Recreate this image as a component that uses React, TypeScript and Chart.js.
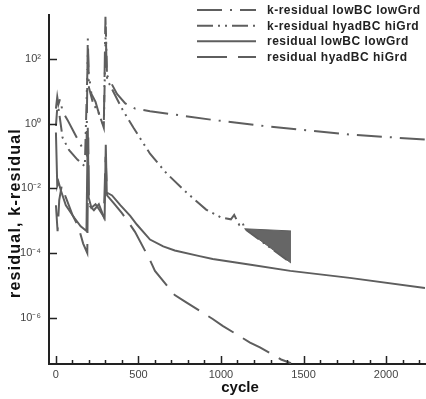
import React, { useEffect, useRef } from "react";
import { Chart, registerables } from "chart.js";

Chart.register(...registerables);

// ---- data ----
const legendLabels = [
  "k-residual lowBC lowGrd",
  "k-residual hyadBC hiGrd",
  "residual lowBC lowGrd",
  "residual hyadBC hiGrd",
];

const kLowCycles = [0, 8, 15, 25, 40, 70, 110, 150, 185, 193, 198, 215, 240, 265, 290, 300, 308, 330, 370, 420, 480, 570, 700, 950, 1200, 1480, 1780, 2236];
const kLowValues = [2.9, 6.7, 3.9, 5.8, 2.4, 1.3, 0.53, 0.22, 0.11, 450, 40, 8.2, 4.7, 1.7, 0.85, 2000, 32, 20, 8.2, 4.2, 2.9, 2.4, 1.95, 1.3, 0.91, 0.65, 0.46, 0.32];

const kHiCycles = [0, 10, 20, 40, 80, 130, 175, 194, 200, 225, 260, 290, 302, 310, 340, 400, 470, 570, 670, 790, 910, 1000, 1060, 1080, 1110, 1130, 1143, 1424];
const kHiValues = [0.85, 4.2, 2.1, 0.37, 0.15, 0.077, 0.048, 180, 13, 4.2, 2.1, 0.74, 1000, 23, 11.6, 2.9, 0.74, 0.117, 0.029, 0.0075, 0.0022, 0.00125, 0.0011, 0.0015, 0.00075, 0.0009, 0.00056, 0.000049];

const kHiBandCycles = [1143, 1424];
const kHiBandUpper = [0.00056, 0.00048];
const kHiBandLower = [0.00056, 0.000049];

const resLowCycles = [0, 8, 15, 30, 60, 110, 150, 185, 193, 198, 215, 240, 265, 295, 302, 308, 340, 390, 450, 490, 570, 650, 720, 870, 950, 1180, 1420, 1780, 2236];
const resLowValues = [0.53, 0.012, 0.016, 0.0085, 0.003, 0.00125, 0.00067, 0.00048, 0.74, 0.0052, 0.0025, 0.0032, 0.0021, 0.0012, 0.22, 0.0074, 0.006, 0.003, 0.0014, 0.00076, 0.00026, 0.00016, 0.00012, 0.00008, 0.000065, 0.000043, 0.000028, 0.000017, 0.0000083];

const resHiCycles = [0, 10, 20, 35, 60, 100, 135, 165, 190, 196, 200, 230, 260, 290, 301, 310, 350, 400, 440, 479, 570, 600, 720, 780, 950, 1010, 1176, 1236, 1364, 1424];
const resHiValues = [0.003, 0.00047, 0.0043, 0.012, 0.0052, 0.0015, 0.00067, 0.000195, 0.0001, 0.37, 0.003, 0.0021, 0.0032, 0.0013, 0.094, 0.006, 0.0035, 0.0017, 0.00089, 0.00045, 0.00006, 0.000028, 0.000005, 0.0000032, 0.00000091, 0.00000056, 0.00000017, 0.00000012, 0.000000051, 0.000000039];

const xTickValues = [0, 500, 1000, 1500, 2000];
const xTickLabels = ["0", "500", "1000", "1500", "2000"];
const xMinorTickValues = [100, 200, 300, 400, 600, 700, 800, 900, 1100, 1200, 1300, 1400, 1600, 1700, 1800, 1900, 2100, 2200];
const yTickValues = [1e-6, 1e-4, 1e-2, 1, 1e2];
const yTickLabels = ["10\u207B\u2076", "10\u207B\u2074", "10\u207B\u00B2", "10\u2070", "10\u00B2"];

const xTitle = "cycle";
const yTitle = "residual, k-residual";

// ---- styles ----
const LINE = "#5e5e5e";
const FONT = "'Liberation Sans', Arial, Helvetica, sans-serif";
const dashes = [[25, 8, 2, 8], [16, 5, 2, 5, 2, 5], [], [30, 11]];

const toPts = (xs: number[], ys: number[]) => xs.map((x, i) => ({ x, y: ys[i] }));

const decorPlugin = {
  id: "decor",
  afterDraw(chart: any) {
    const ctx = chart.ctx as CanvasRenderingContext2D;
    const { left, bottom } = chart.chartArea;
    const xs = chart.scales.x;
    const ys = chart.scales.y;
    ctx.save();
    ctx.strokeStyle = "#222";
    ctx.lineWidth = 1.5;
    ctx.setLineDash([]);
    ctx.beginPath();
    xTickValues.forEach((v) => {
      const p = Math.round(xs.getPixelForValue(v)) + 0.5;
      ctx.moveTo(p, bottom);
      ctx.lineTo(p, bottom - 8);
    });
    xMinorTickValues.forEach((v) => {
      const p = Math.round(xs.getPixelForValue(v)) + 0.5;
      ctx.moveTo(p, bottom);
      ctx.lineTo(p, bottom - 4);
    });
    yTickValues.forEach((v) => {
      const p = Math.round(ys.getPixelForValue(v)) + 0.5;
      ctx.moveTo(left, p);
      ctx.lineTo(left + 8, p);
    });
    ctx.stroke();

    // legend
    const rows = [10, 25.7, 41.3, 57];
    legendLabels.forEach((lab, i) => {
      ctx.strokeStyle = LINE;
      ctx.lineWidth = 2;
      ctx.setLineDash(dashes[i]);
      ctx.beginPath();
      ctx.moveTo(197, rows[i]);
      ctx.lineTo(256, rows[i]);
      ctx.stroke();
      ctx.setLineDash([]);
      ctx.fillStyle = "#222";
      ctx.font = `bold 12px ${FONT}`;
      (ctx as any).letterSpacing = "0.5px";
      ctx.textAlign = "left";
      ctx.textBaseline = "middle";
      ctx.fillText(lab, 267, rows[i] + 0.5);
    });

    // axis titles
    ctx.fillStyle = "#111";
    ctx.font = `bold 15px ${FONT}`;
    (ctx as any).letterSpacing = "0px";
    ctx.textAlign = "center";
    ctx.textBaseline = "middle";
    ctx.fillText(xTitle, 240, 388);

    ctx.save();
    ctx.translate(16, 213);
    ctx.rotate(-Math.PI / 2);
    ctx.font = `bold 16px ${FONT}`;
    (ctx as any).letterSpacing = "1.2px";
    ctx.fillText(yTitle, 0, 0);
    ctx.restore();
    ctx.restore();
  },
};

export default function App() {
  const ref = useRef<HTMLCanvasElement>(null);
  useEffect(() => {
    if (!ref.current) return;
    const base = { pointRadius: 0, borderWidth: 2, tension: 0, fill: false, borderColor: LINE, backgroundColor: LINE };
    const chart = new Chart(ref.current, {
      type: "line",
      data: {
        datasets: [
          { ...base, label: legendLabels[0], data: toPts(kLowCycles, kLowValues), borderDash: dashes[0] },
          { ...base, label: legendLabels[1], data: toPts(kHiCycles, kHiValues), borderDash: dashes[1] },
          { ...base, label: legendLabels[2], data: toPts(resLowCycles, resLowValues), borderDash: dashes[2] },
          { ...base, label: legendLabels[3], data: toPts(resHiCycles, resHiValues), borderDash: dashes[3] },
          { ...base, label: "band-lower", data: toPts(kHiBandCycles, kHiBandLower), borderWidth: 1 },
          { ...base, label: "band-upper", data: toPts(kHiBandCycles, kHiBandUpper), borderWidth: 1, fill: "-1", backgroundColor: "#666" },
        ],
      },
      options: {
        responsive: false,
        animation: false,
        devicePixelRatio: 1,
        layout: { padding: { top: 2, right: 1, left: 0, bottom: 0 } },
        plugins: { legend: { display: false }, tooltip: { enabled: false } },
        scales: {
          x: {
            type: "linear",
            min: -42,
            max: 2236,
            border: { display: true, color: "#222", width: 2 },
            grid: { display: false, drawTicks: false },
            ticks: {
              color: "#444",
              font: { size: 11, family: FONT },
              padding: 4,
              maxRotation: 0,
              callback: (v: any) => {
                const idx = xTickValues.indexOf(Number(v));
                return idx >= 0 ? xTickLabels[idx] : "";
              },
            },
            afterBuildTicks: (s: any) => { s.ticks = xTickValues.map((v) => ({ value: v })); },
            afterFit: (s: any) => { s.height = 35; },
          },
          y: {
            type: "logarithmic",
            min: 3.7e-8,
            max: 2340,
            border: { display: true, color: "#222", width: 2 },
            grid: { display: false, drawTicks: false },
            ticks: {
              color: "#444",
              font: { size: 11, family: FONT },
              padding: 8,
              callback: (v: any) => {
                const e = Math.round(Math.log10(Number(v)));
                const idx = yTickValues.findIndex((t) => Math.round(Math.log10(t)) === e);
                return idx >= 0 ? yTickLabels[idx] : "";
              },
            },
            afterBuildTicks: (s: any) => { s.ticks = yTickValues.map((v) => ({ value: v })); },
            afterFit: (s: any) => { s.width = 49; },
          },
        },
      },
      plugins: [decorPlugin],
    } as any);
    return () => chart.destroy();
  }, []);
  return (
    <div style={{ position: "absolute", left: 0, top: 0, width: 426, height: 399, background: "#fff" }}>
      <canvas ref={ref} width={426} height={399} style={{ width: 426, height: 399 }} />
    </div>
  );
}
